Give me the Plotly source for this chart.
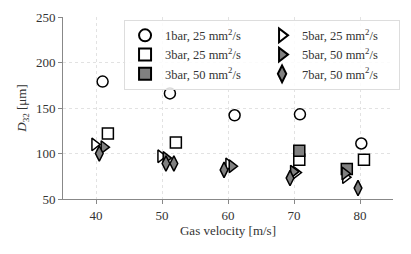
import plotly.graph_objects as go

# Data
x_1bar25 = [41.0, 51.2, 61.0, 70.9, 80.2]
y_1bar25 = [179, 166, 142, 143, 111]

x_3bar25 = [41.8, 52.1, 70.8, 80.6]
y_3bar25 = [122, 112, 93, 93]

x_3bar50 = [70.8, 78.0]
y_3bar50 = [103, 83]

x_5bar25 = [39.8, 49.8, 60.1, 70.3, 77.8]
y_5bar25 = [110, 97, 88, 79, 74]

x_5bar50 = [41.2, 50.6, 60.6, 69.9, 77.7]
y_5bar50 = [107, 95, 86, 80, 78]

x_7bar50 = [40.5, 50.6, 51.8, 59.4, 69.4, 79.7]
y_7bar50 = [100, 89, 89, 82, 73, 62]

x_ticks = [40, 50, 60, 70, 80]
y_ticks = [50, 100, 150, 200, 250]

FONT = "Liberation Serif"
GRAY = "#808080"

series = [
    ("1bar, 25 mm<sup>2</sup>/s", x_1bar25, y_1bar25, "circle", "white"),
    ("5bar, 25 mm<sup>2</sup>/s", x_5bar25, y_5bar25, "triangle-right", "white"),
    ("3bar, 25 mm<sup>2</sup>/s", x_3bar25, y_3bar25, "square", "white"),
    ("5bar, 50 mm<sup>2</sup>/s", x_5bar50, y_5bar50, "triangle-right", GRAY),
    ("3bar, 50 mm<sup>2</sup>/s", x_3bar50, y_3bar50, "square", GRAY),
    ("7bar, 50 mm<sup>2</sup>/s", x_7bar50, y_7bar50, "diamond-tall", GRAY),
]

fig = go.Figure()
draw_order = [0, 2, 4, 1, 3, 5]
for i in draw_order:
    name, xs, ys, sym, col = series[i]
    fig.add_trace(go.Scatter(
        x=xs, y=ys, mode="markers", name=name,
        marker=dict(symbol=sym, size=11, color=col,
                    line=dict(color="black", width=1.5)),
        legendrank=i + 1,
    ))

# The page body adds an 8px offset; margins compensate for it.
fig.update_layout(
    width=395, height=238,
    margin=dict(l=55, r=10, t=9, b=47, autoexpand=False),
    paper_bgcolor="white", plot_bgcolor="white",
    font=dict(family=FONT, size=13, color="#333333"),
    showlegend=True,
    legend=dict(
        orientation="h", entrywidth=92, entrywidthmode="pixels",
        itemwidth=30,
        x=0.185, y=0.985, xanchor="left", yanchor="top",
        bgcolor="rgba(255,255,255,0.85)", bordercolor="#dddddd", borderwidth=1,
        font=dict(family=FONT, size=12.5, color="#333333"),
        traceorder="normal", itemsizing="constant",
        tracegroupgap=0,
    ),
    xaxis=dict(
        range=[35, 85], tickvals=x_ticks, automargin=False,
        title=dict(text="Gas velocity [m/s]", font=dict(size=13, family=FONT), standoff=4),
        showgrid=True, gridcolor="#e2e2e2", griddash="dot", gridwidth=1,
        showline=True, linecolor="#888888", linewidth=1,
        ticks="outside", ticklen=4, tickcolor="#888888",
        zeroline=False,
    ),
    yaxis=dict(
        range=[50, 250], tickvals=y_ticks, automargin=False,
        title=dict(text="<i>D</i><sub>32</sub> [μm]", font=dict(size=13, family=FONT), standoff=6),
        showgrid=True, gridcolor="#e2e2e2", griddash="dot", gridwidth=1,
        showline=True, linecolor="#888888", linewidth=1,
        ticks="outside", ticklen=4, tickcolor="#888888",
        zeroline=False,
    ),
)

fig.write_html("out.html")
